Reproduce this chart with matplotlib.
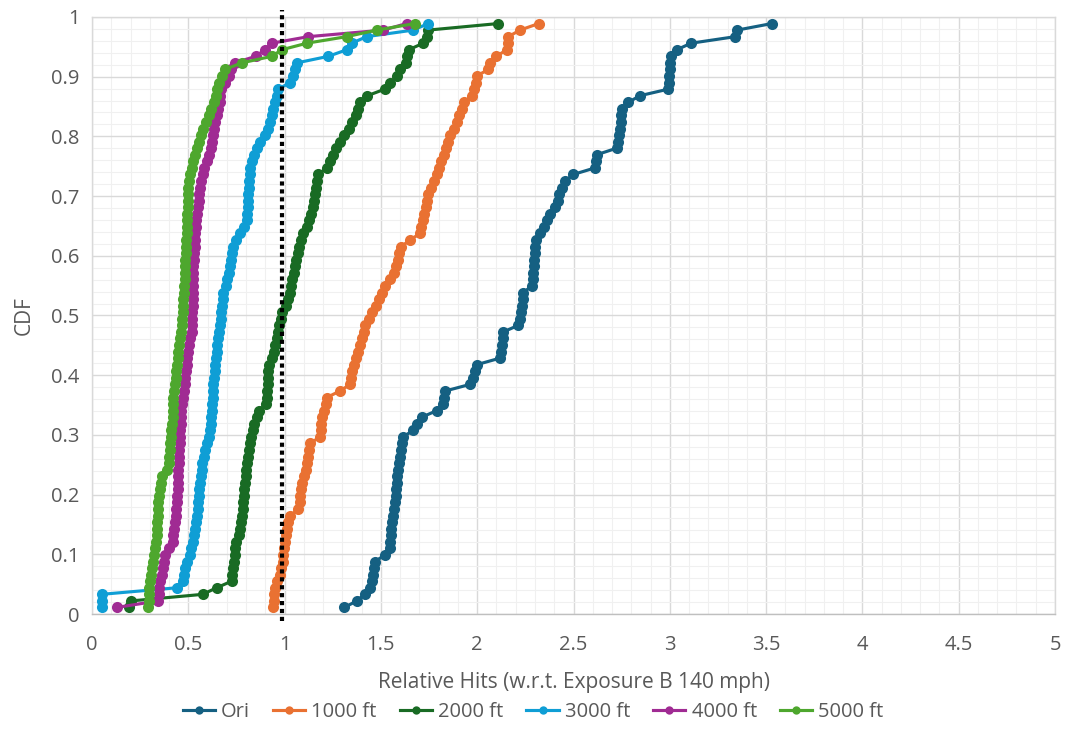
import matplotlib
matplotlib.use("Agg")
import matplotlib.pyplot as plt
from matplotlib.ticker import MultipleLocator, FuncFormatter
import numpy as np

# Sorted relative-hit samples per scenario (empirical CDF is built from their ranks)
ori = [1.31, 1.375, 1.415, 1.443, 1.452, 1.458, 1.464, 1.47, 1.52, 1.548,
       1.549, 1.55, 1.553, 1.558, 1.563, 1.568, 1.573, 1.576, 1.579, 1.582,
       1.586, 1.589, 1.593, 1.598, 1.604, 1.61, 1.616, 1.667, 1.69, 1.712,
       1.79, 1.825, 1.83, 1.835, 1.963, 1.98, 1.99, 1.997, 2.118, 2.122,
       2.127, 2.132, 2.136, 2.213, 2.22, 2.226, 2.232, 2.236, 2.24, 2.283,
       2.288, 2.291, 2.294, 2.296, 2.298, 2.30, 2.305, 2.326, 2.345, 2.362,
       2.38, 2.405, 2.421, 2.425, 2.44, 2.456, 2.499, 2.612, 2.617, 2.62,
       2.724, 2.73, 2.735, 2.74, 2.744, 2.747, 2.75, 2.785, 2.845, 2.992,
       2.995, 2.997, 3.0, 3.0, 3.005, 3.036, 3.11, 3.34, 3.35, 3.53]

ft1000 = [0.941, 0.943, 0.946, 0.95, 0.96, 0.975, 0.982, 0.99, 0.994, 0.998,
          1.002, 1.005, 1.01, 1.02, 1.03, 1.071, 1.079, 1.082, 1.085, 1.089,
          1.10, 1.112, 1.118, 1.124, 1.128, 1.132, 1.184, 1.187, 1.191, 1.196,
          1.206, 1.216, 1.219, 1.288, 1.34, 1.345, 1.352, 1.36, 1.37, 1.382,
          1.39, 1.40, 1.41, 1.42, 1.44, 1.455, 1.472, 1.488, 1.504, 1.522,
          1.545, 1.566, 1.578, 1.587, 1.596, 1.605, 1.651, 1.703, 1.71, 1.72,
          1.726, 1.732, 1.737, 1.742, 1.76, 1.775, 1.79, 1.80, 1.814, 1.826,
          1.838, 1.85, 1.86, 1.878, 1.895, 1.908, 1.92, 1.93, 1.975, 1.985,
          1.992, 1.997, 2.058, 2.066, 2.10, 2.153, 2.158, 2.162, 2.222, 2.32]

ft2000 = [0.19, 0.205, 0.575, 0.647, 0.725, 0.728, 0.732, 0.736, 0.74, 0.745,
          0.75, 0.765, 0.77, 0.774, 0.778, 0.782, 0.785, 0.788, 0.791, 0.795,
          0.799, 0.802, 0.805, 0.81, 0.815, 0.819, 0.825, 0.835, 0.842, 0.855,
          0.866, 0.905, 0.908, 0.911, 0.913, 0.915, 0.916, 0.92, 0.932, 0.943,
          0.95, 0.958, 0.965, 0.972, 0.98, 0.988, 1.005, 1.02, 1.028, 1.035,
          1.04, 1.047, 1.054, 1.06, 1.068, 1.075, 1.085, 1.095, 1.115, 1.128,
          1.138, 1.148, 1.154, 1.16, 1.165, 1.17, 1.175, 1.219, 1.235, 1.25,
          1.268, 1.287, 1.308, 1.334, 1.352, 1.37, 1.38, 1.39, 1.43, 1.52,
          1.547, 1.585, 1.598, 1.632, 1.638, 1.644, 1.72, 1.737, 1.746, 2.11]

ft3000 = [0.05, 0.05, 0.05, 0.44, 0.472, 0.478, 0.483, 0.495, 0.508, 0.515,
          0.522, 0.53, 0.535, 0.54, 0.544, 0.548, 0.551, 0.555, 0.558, 0.561,
          0.565, 0.569, 0.573, 0.58, 0.587, 0.598, 0.61, 0.614, 0.617, 0.62,
          0.622, 0.624, 0.626, 0.628, 0.63, 0.633, 0.637, 0.64, 0.644, 0.647,
          0.651, 0.656, 0.66, 0.665, 0.668, 0.672, 0.675, 0.678, 0.682, 0.695,
          0.703, 0.71, 0.717, 0.722, 0.728, 0.734, 0.75, 0.77, 0.79, 0.803,
          0.806, 0.809, 0.812, 0.812, 0.814, 0.816, 0.818, 0.822, 0.83, 0.84,
          0.855, 0.87, 0.90, 0.915, 0.925, 0.934, 0.942, 0.95, 0.96, 0.967,
          1.028, 1.042, 1.054, 1.063, 1.227, 1.322, 1.348, 1.426, 1.668, 1.746]

ft4000 = [0.128, 0.344, 0.347, 0.35, 0.355, 0.363, 0.37, 0.376, 0.38, 0.402,
          0.418, 0.422, 0.425, 0.43, 0.434, 0.437, 0.44, 0.442, 0.444, 0.446,
          0.447, 0.448, 0.45, 0.451, 0.453, 0.455, 0.457, 0.458, 0.46, 0.462,
          0.464, 0.466, 0.47, 0.476, 0.481, 0.485, 0.489, 0.492, 0.495, 0.498,
          0.503, 0.51, 0.517, 0.519, 0.52, 0.521, 0.522, 0.523, 0.524, 0.525,
          0.525, 0.526, 0.527, 0.529, 0.531, 0.533, 0.535, 0.537, 0.54, 0.542,
          0.544, 0.548, 0.553, 0.557, 0.561, 0.568, 0.575, 0.583, 0.595, 0.61,
          0.616, 0.623, 0.629, 0.634, 0.641, 0.648, 0.655, 0.662, 0.665, 0.67,
          0.69, 0.71, 0.72, 0.74, 0.85, 0.898, 0.933, 1.123, 1.512, 1.634]

ft5000 = [0.292, 0.294, 0.296, 0.298, 0.302, 0.306, 0.31, 0.315, 0.32, 0.326,
          0.332, 0.336, 0.338, 0.34, 0.342, 0.343, 0.345, 0.349, 0.354, 0.359,
          0.362, 0.392, 0.398, 0.402, 0.405, 0.407, 0.41, 0.412, 0.415, 0.418,
          0.42, 0.421, 0.422, 0.427, 0.43, 0.434, 0.437, 0.44, 0.444, 0.448,
          0.453, 0.457, 0.46, 0.465, 0.468, 0.47, 0.473, 0.475, 0.477, 0.479,
          0.481, 0.482, 0.483, 0.485, 0.487, 0.488, 0.49, 0.491, 0.492, 0.493,
          0.495, 0.497, 0.498, 0.499, 0.50, 0.505, 0.51, 0.518, 0.524, 0.535,
          0.545, 0.558, 0.568, 0.578, 0.592, 0.605, 0.618, 0.635, 0.642, 0.647,
          0.66, 0.673, 0.69, 0.777, 0.933, 0.985, 1.115, 1.322, 1.478, 1.677]

series_labels = ["Ori", "1000 ft", "2000 ft", "3000 ft", "4000 ft", "5000 ft"]
series_values = [ori, ft1000, ft2000, ft3000, ft4000, ft5000]
series_colors = ["#156082", "#E97132", "#196B24", "#0F9ED5", "#A02B93", "#4EA72E"]
threshold = 0.985

plt.rcParams["font.family"] = ["Open Sans", "DejaVu Sans"]
text_color = "#595959"

fig = plt.figure(figsize=(10.66, 7.51), dpi=100)
ax = fig.add_axes([0.0863, 0.1824, 0.9034, 0.795])

for label, vals, color in zip(series_labels, series_values, series_colors):
    x = np.sort(np.asarray(vals))
    n = len(x)
    cdf = np.arange(1, n + 1) / (n + 1)
    ax.plot(x, cdf, color=color, lw=2.25, marker="o", markersize=8,
            markeredgewidth=0, label=label, zorder=3)

ax.axvline(threshold, ymin=-0.012, ymax=1.012, color="black", lw=3,
           ls=(0, (1, 0.9)), clip_on=False, zorder=4)

ax.set_xlim(0, 5)
ax.set_ylim(0, 1)
ax.xaxis.set_major_locator(MultipleLocator(0.5))
ax.xaxis.set_minor_locator(MultipleLocator(0.1))
ax.yaxis.set_major_locator(MultipleLocator(0.1))
ax.yaxis.set_minor_locator(MultipleLocator(0.02))
fmt = FuncFormatter(lambda v, p: f"{v:g}")
ax.xaxis.set_major_formatter(fmt)
ax.yaxis.set_major_formatter(fmt)

ax.grid(which="major", color="#d9d9d9", lw=1.0, zorder=0)
ax.grid(which="minor", color="#f0f0f0", lw=0.8, zorder=0)
ax.set_axisbelow(True)
for side in ["top", "right", "left"]:
    ax.spines[side].set_color("#d9d9d9")
    ax.spines[side].set_linewidth(1.0)
ax.spines["bottom"].set_color("#bfbfbf")
ax.spines["bottom"].set_linewidth(1.0)

ax.tick_params(which="both", length=0, colors=text_color, labelsize=14.5)
ax.tick_params(axis="x", pad=15)
ax.tick_params(axis="y", pad=9)

ax.set_xlabel("Relative Hits (w.r.t. Exposure B 140 mph)", fontsize=15,
              color=text_color, labelpad=12)
ax.set_ylabel("CDF", fontsize=15, color=text_color, labelpad=12)

leg = fig.legend(loc="center", bbox_to_anchor=(0.5, 0.052), ncol=6,
                 frameon=False, fontsize=14.5, handlelength=1.6,
                 columnspacing=1.15, handletextpad=0.3, markerscale=0.75)
for t in leg.get_texts():
    t.set_color(text_color)

fig.savefig("out.png", dpi=100, facecolor="white")
